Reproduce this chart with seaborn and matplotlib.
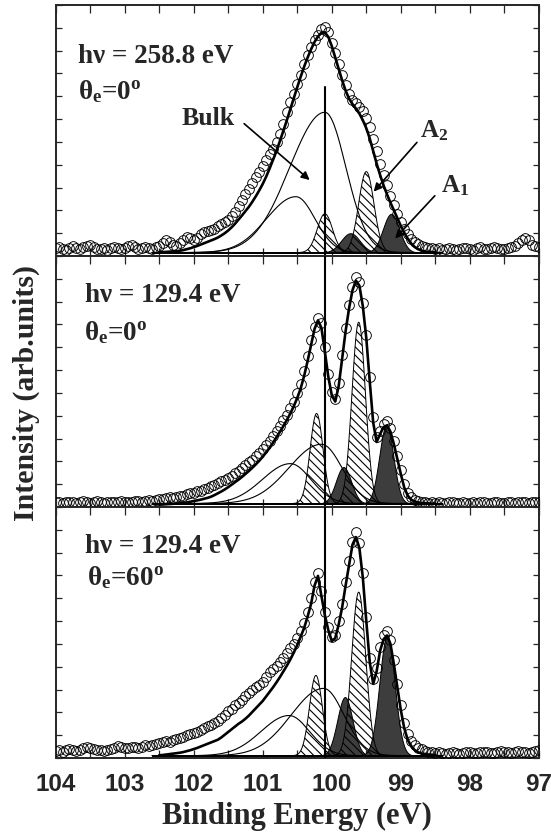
import numpy as np
import matplotlib
matplotlib.use("Agg")
import matplotlib.pyplot as plt
import seaborn as sns
from matplotlib.ticker import MultipleLocator, FormatStrFormatter

# ---- data ---------------------------------------------------------------
photon_labels = ["hν = 258.8 eV", "hν = 129.4 eV", "hν = 129.4 eV"]
angle_labels = [r"$\theta_e$=0$^o$", r"$\theta_e$=0$^o$", r"$\theta_e$=60$^o$"]

energy = np.round(np.arange(104.0, 96.99, -0.05), 2)      # measured points
fit_energy = np.round(np.arange(102.5, 98.49, -0.05), 2)  # fitted envelope

counts_258_0 = [
    0.35, 0.40, 0.30, 0.28, 0.36, 0.42, 0.33, 0.30, 0.38, 0.45,
    0.50, 0.40, 0.32, 0.30, 0.35, 0.28, 0.33, 0.40, 0.36, 0.30,
    0.34, 0.42, 0.48, 0.38, 0.30, 0.33, 0.40, 0.35, 0.30, 0.38,
    0.45, 0.55, 0.70, 0.62, 0.50, 0.45, 0.55, 0.70, 0.85, 0.78,
    0.70, 0.80, 0.95, 1.05, 1.10, 1.15, 1.20, 1.30, 1.40, 1.48,
    1.60, 1.75, 1.95, 2.20, 2.45, 2.70, 2.95, 3.20, 3.45, 3.70,
    3.95, 4.20, 4.45, 4.70, 5.00, 5.35, 5.80, 6.30, 6.75, 7.10,
    7.55, 7.95, 8.40, 8.80, 9.15, 9.45, 9.70, 9.95, 10.05, 9.80,
    9.35, 8.90, 8.40, 7.95, 7.50, 7.10, 6.85, 6.70, 6.55, 6.35,
    6.05, 5.65, 5.15, 4.60, 4.05, 3.55, 3.10, 2.65, 2.25, 1.85,
    1.50, 1.20, 0.95, 0.75, 0.62, 0.52, 0.45, 0.40, 0.36, 0.34,
    0.30, 0.33, 0.28, 0.30, 0.35, 0.32, 0.28, 0.30, 0.36, 0.33,
    0.30, 0.28, 0.34, 0.38, 0.32, 0.30, 0.35, 0.40, 0.36, 0.32,
    0.30, 0.34, 0.40, 0.45, 0.55, 0.70, 0.80, 0.68, 0.50, 0.42,
    0.40,
]
counts_129_0 = [
    0.20, 0.22, 0.18, 0.20, 0.24, 0.21, 0.19, 0.22, 0.25, 0.20,
    0.18, 0.22, 0.26, 0.22, 0.19, 0.21, 0.24, 0.20, 0.22, 0.25,
    0.22, 0.20, 0.24, 0.28, 0.25, 0.22, 0.26, 0.30, 0.28, 0.32,
    0.35, 0.33, 0.38, 0.42, 0.40, 0.45, 0.50, 0.48, 0.55, 0.60,
    0.62, 0.68, 0.72, 0.78, 0.85, 0.92, 0.98, 1.05, 1.12, 1.20,
    1.28, 1.38, 1.48, 1.58, 1.70, 1.82, 1.95, 2.08, 2.22, 2.38,
    2.55, 2.72, 2.90, 3.10, 3.32, 3.55, 3.80, 4.05, 4.32, 4.62,
    4.98, 5.40, 5.95, 6.60, 7.30, 7.90, 8.30, 8.05, 7.00, 5.85,
    5.05, 4.75, 5.45, 6.65, 7.85, 8.85, 9.65, 10.10, 9.85, 8.95,
    7.55, 5.70, 3.95, 3.05, 3.35, 3.65, 3.75, 3.45, 2.90, 2.25,
    1.60, 1.00, 0.62, 0.42, 0.32, 0.26, 0.22, 0.20, 0.19, 0.20,
    0.18, 0.20, 0.19, 0.17, 0.20, 0.21, 0.18, 0.19, 0.20, 0.18,
    0.19, 0.21, 0.18, 0.20, 0.22, 0.19, 0.18, 0.20, 0.21, 0.19,
    0.18, 0.20, 0.22, 0.19, 0.20, 0.23, 0.21, 0.19, 0.20, 0.22,
    0.20,
]
counts_129_60 = [
    0.30, 0.35, 0.28, 0.33, 0.40, 0.36, 0.30, 0.34, 0.42, 0.50,
    0.45, 0.38, 0.33, 0.36, 0.30, 0.35, 0.40, 0.45, 0.52, 0.48,
    0.42, 0.45, 0.50, 0.48, 0.44, 0.50, 0.55, 0.52, 0.58, 0.62,
    0.66, 0.70, 0.74, 0.72, 0.78, 0.84, 0.88, 0.94, 1.00, 1.06,
    1.10, 1.15, 1.22, 1.30, 1.40, 1.45, 1.55, 1.62, 1.75, 1.90,
    2.05, 2.15, 2.30, 2.40, 2.55, 2.72, 2.85, 3.00, 3.10, 3.20,
    3.35, 3.55, 3.75, 3.90, 4.05, 4.20, 4.40, 4.60, 4.80, 5.00,
    5.25, 5.55, 5.90, 6.40, 7.00, 7.70, 8.10, 7.30, 6.40, 5.75,
    5.30, 5.40, 6.00, 6.75, 7.70, 8.65, 9.45, 9.90, 9.40, 8.10,
    6.20, 4.40, 3.45, 3.95, 4.85, 5.40, 5.58, 5.15, 4.30, 3.25,
    2.30, 1.55, 1.05, 0.75, 0.55, 0.45, 0.38, 0.32, 0.28, 0.25,
    0.22, 0.25, 0.20, 0.18, 0.22, 0.25, 0.20, 0.18, 0.22, 0.26,
    0.24, 0.20, 0.22, 0.25, 0.28, 0.24, 0.20, 0.22, 0.26, 0.30,
    0.28, 0.24, 0.22, 0.26, 0.30, 0.28, 0.25, 0.22, 0.25, 0.30,
    0.35,
]

fit_258_0 = [
    0.16, 0.17, 0.18, 0.19, 0.20, 0.21, 0.23, 0.26, 0.30, 0.34,
    0.39, 0.44, 0.50, 0.56, 0.62, 0.68, 0.74, 0.81, 0.90, 1.00,
    1.12, 1.26, 1.42, 1.60, 1.78, 1.97, 2.16, 2.38, 2.62, 2.88,
    3.16, 3.48, 3.84, 4.22, 4.62, 5.05, 5.50, 5.96, 6.44, 6.92,
    7.40, 7.86, 8.30, 8.70, 9.06, 9.38, 9.62, 9.78, 9.80, 9.60,
    9.20, 8.70, 8.20, 7.70, 7.25, 6.90, 6.66, 6.46, 6.24, 5.95,
    5.60, 5.15, 4.60, 4.05, 3.55, 3.10, 2.70, 2.34, 2.00, 1.66,
    1.32, 1.02, 0.76, 0.55, 0.40, 0.30, 0.24, 0.20, 0.18, 0.17,
    0.16,
]
fit_129_0 = [
    0.10, 0.11, 0.12, 0.13, 0.14, 0.15, 0.16, 0.18, 0.20, 0.23,
    0.26, 0.29, 0.32, 0.36, 0.40, 0.45, 0.52, 0.60, 0.68, 0.77,
    0.87, 0.98, 1.09, 1.20, 1.32, 1.45, 1.58, 1.72, 1.87, 2.03,
    2.20, 2.40, 2.60, 2.82, 3.06, 3.30, 3.55, 3.82, 4.10, 4.42,
    4.78, 5.20, 5.75, 6.40, 7.10, 7.80, 8.18, 7.85, 6.80, 5.70,
    4.90, 4.62, 5.30, 6.50, 7.70, 8.70, 9.50, 9.92, 9.70, 8.80,
    7.40, 5.50, 3.70, 2.85, 3.20, 3.50, 3.58, 3.30, 2.75, 2.10,
    1.45, 0.85, 0.50, 0.32, 0.24, 0.20, 0.18, 0.17, 0.16, 0.15,
    0.15,
]
fit_129_60 = [
    0.12, 0.13, 0.15, 0.17, 0.19, 0.21, 0.23, 0.26, 0.30, 0.34,
    0.39, 0.44, 0.50, 0.56, 0.62, 0.68, 0.74, 0.80, 0.90, 1.02,
    1.14, 1.26, 1.38, 1.50, 1.60, 1.72, 1.86, 2.02, 2.18, 2.34,
    2.50, 2.70, 2.90, 3.10, 3.32, 3.55, 3.80, 4.05, 4.32, 4.62,
    4.95, 5.32, 5.70, 6.20, 6.75, 7.55, 7.98, 7.10, 6.25, 5.60,
    5.12, 5.25, 5.85, 6.60, 7.55, 8.45, 9.35, 9.68, 9.20, 7.90,
    6.00, 4.20, 3.25, 3.80, 4.70, 5.20, 5.37, 5.00, 4.10, 3.10,
    2.10, 1.30, 0.80, 0.52, 0.35, 0.25, 0.20, 0.17, 0.15, 0.14,
    0.13,
]

counts = [counts_258_0, counts_129_0, counts_129_60]
fits = [fit_258_0, fit_129_0, fit_129_60]

# fitted components: centre (eV), height, FWHM on high-BE side, FWHM on low-BE side
baseline = [0.15, 0.15, 0.10]
bulk_centre = [[100.10, 100.52], [100.15, 100.60], [100.12, 100.62]]
bulk_height = [[6.15, 2.45], [2.60, 1.75], [2.95, 1.76]]
bulk_w_hi = [[1.20, 1.00], [1.10, 0.95], [1.10, 0.95]]
bulk_w_lo = [[0.72, 0.65], [0.70, 0.70], [0.70, 0.70]]
a2_centre = [[100.10, 99.50], [100.22, 99.61], [100.23, 99.61]]
a2_height = [[1.70, 3.55], [3.95, 7.95], [3.52, 7.17]]
a2_fwhm = [[0.26, 0.26], [0.22, 0.23], [0.22, 0.24]]
a1_centre = [[99.73, 99.14], [99.83, 99.21], [99.81, 99.20]]
a1_height = [[0.85, 1.70], [1.60, 3.43], [2.57, 5.27]]
a1_fwhm = [[0.32, 0.28], [0.26, 0.24], [0.26, 0.26]]

bulk_line_energy = 100.1


def peak(x, c, h, w_hi, w_lo):
    w = np.where(x > c, w_hi, w_lo)
    return h * np.exp(-4 * np.log(2) * (x - c) ** 2 / w ** 2)


sns.set_style("ticks")
plt.rcParams["font.family"] = ["Liberation Serif", "DejaVu Serif"]
plt.rcParams["font.weight"] = "bold"
plt.rcParams["mathtext.fontset"] = "custom"
plt.rcParams["mathtext.rm"] = "Liberation Serif:bold"
plt.rcParams["mathtext.it"] = "Liberation Serif:bold"
plt.rcParams["mathtext.bf"] = "Liberation Serif:bold"
plt.rcParams["hatch.linewidth"] = 0.8

fig, axes = plt.subplots(3, 1, figsize=(5.51, 8.38), dpi=100, sharex=True)
fig.subplots_adjust(left=0.101, right=0.978, bottom=0.0955, top=0.994, hspace=0)

xs = np.linspace(102.6, 98.4, 600)
dark = "#3d3d3d"

for i, ax in enumerate(axes):
    base = baseline[i]

    # dark A1 components
    for c, h, w in zip(a1_centre[i], a1_height[i], a1_fwhm[i]):
        y = base + peak(xs, c, h, w, w)
        ax.fill_between(xs, base, y, facecolor=dark, edgecolor="black", lw=0.7, zorder=2)

    # hatched A2 components
    for c, h, w in zip(a2_centre[i], a2_height[i], a2_fwhm[i]):
        y = base + peak(xs, c, h, w, w)
        ax.fill_between(xs, base, y, facecolor="none", edgecolor="black",
                        hatch="\\\\\\\\", lw=0.7, zorder=3)

    # bulk components (thin lines)
    for c, h, wh, wl in zip(bulk_centre[i], bulk_height[i], bulk_w_hi[i], bulk_w_lo[i]):
        sns.lineplot(x=xs, y=base + peak(xs, c, h, wh, wl), color="black", lw=0.8,
                     ax=ax, zorder=4)

    # measured spectrum
    sns.lineplot(x=energy, y=counts[i], ax=ax, linestyle="", marker="o",
                 markersize=7, markerfacecolor="none", markeredgecolor="black",
                 markeredgewidth=0.65, zorder=5)
    # fitted envelope
    sns.lineplot(x=fit_energy, y=fits[i], ax=ax, color="black", lw=1.9, zorder=6)

    if i == 0:
        ax.axvline(bulk_line_energy, ymin=0, ymax=7.41 / 11, color="black", lw=1.5, zorder=7)
    else:
        ax.axvline(bulk_line_energy, color="black", lw=1.5, zorder=7)

    ax.set_xlim(104, 97)
    ax.set_ylim(0, 11)
    ax.xaxis.set_major_locator(MultipleLocator(1))
    ax.xaxis.set_minor_locator(MultipleLocator(0.5))
    ax.yaxis.set_major_locator(MultipleLocator(1))
    ax.tick_params(axis="x", which="both", direction="in", top=True, bottom=True,
                   length=5.5, width=0.9)
    ax.tick_params(axis="y", which="both", direction="in", left=True, right=True,
                   length=4.5, width=0.9, labelleft=False)
    for s in ax.spines.values():
        s.set_linewidth(1.4)
    ax.set_xlabel("")
    ax.set_ylabel("")

# panel captions
caption_x = [0.3677, 0.3816, 0.3816]
caption_y = [0.77, 0.817, 0.817]
angle_x = [0.046, 0.059, 0.065]
angle_y = [0.624, 0.664, 0.69]
for i, ax in enumerate(axes):
    ax.text(caption_x[i], caption_y[i], photon_labels[i], transform=ax.transAxes,
            ha="right", va="baseline", fontsize=19.5, fontweight="bold")
    ax.text(angle_x[i], angle_y[i], angle_labels[i], transform=ax.transAxes,
            ha="left", va="baseline", fontsize=19.5, fontweight="bold")

# component labels in the top panel
top = axes[0]
top.text(101.40, 5.75, "Bulk", ha="right", va="baseline", fontsize=18.5, fontweight="bold")
top.annotate("", xy=(100.29, 3.25), xytext=(101.30, 5.88),
             arrowprops=dict(arrowstyle="-|>", color="black", lw=1.2, mutation_scale=12))
top.text(98.72, 5.2, r"A$_2$", ha="left", va="baseline", fontsize=18, fontweight="bold")
top.annotate("", xy=(99.42, 2.73), xytext=(98.74, 5.07),
             arrowprops=dict(arrowstyle="-|>", color="black", lw=1.2, mutation_scale=12))
top.text(98.42, 2.80, r"A$_1$", ha="left", va="baseline", fontsize=18, fontweight="bold")
top.annotate("", xy=(99.11, 0.68), xytext=(98.48, 2.73),
             arrowprops=dict(arrowstyle="-|>", color="black", lw=1.2, mutation_scale=12))

bottom = axes[2]
bottom.xaxis.set_major_formatter(FormatStrFormatter("%d"))
for lab in bottom.get_xticklabels():
    lab.set_fontfamily(["Liberation Sans", "DejaVu Sans"])
    lab.set_fontweight("bold")
    lab.set_fontsize(17.5)
bottom.tick_params(axis="x", pad=11)

fig.text(0.539, 0.0167, "Binding Energy (eV)", ha="center", va="baseline",
         fontsize=22, fontweight="bold")
fig.text(0.048, 0.5316, "Intensity (arb.units)", ha="center", va="center",
         rotation=90, fontsize=21.5, fontweight="bold")

fig.savefig("out.png", dpi=100)
